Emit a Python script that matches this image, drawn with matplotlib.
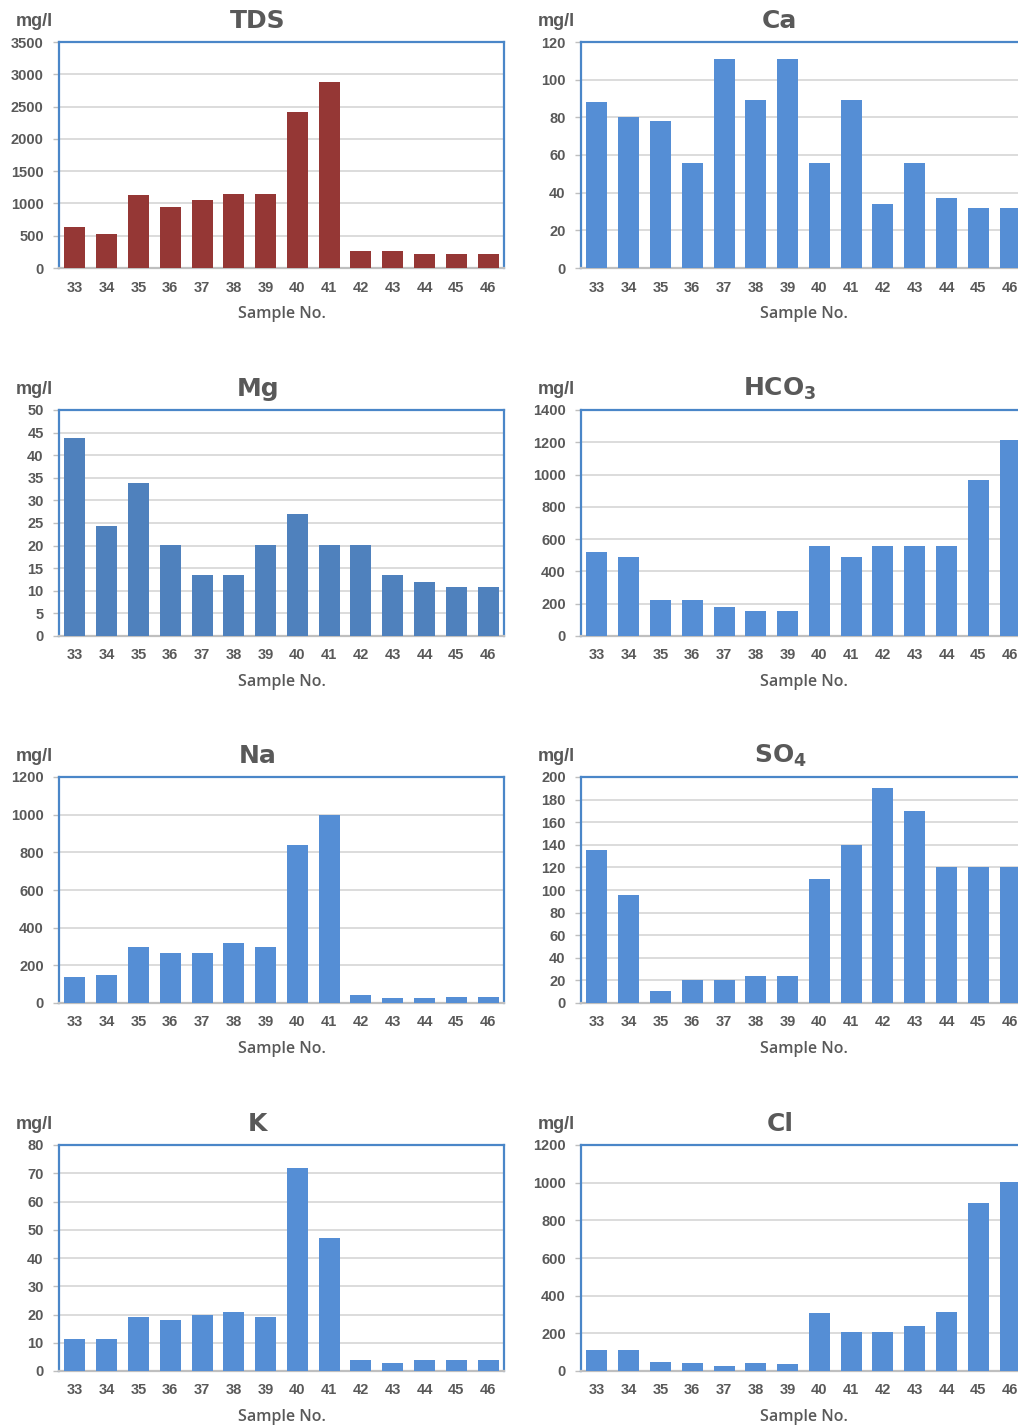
import numpy as np
import matplotlib
matplotlib.use("Agg")
import matplotlib.pyplot as plt

samples = ["33", "34", "35", "36", "37", "38", "39", "40", "41", "42", "43", "44", "45", "46"]

tds = [630, 530, 1130, 940, 1060, 1150, 1150, 2420, 2880, 260, 260, 220, 220, 220]
ca = [88, 80, 78, 56, 111, 89, 111, 56, 89, 34, 56, 37, 32, 32]
mg = [43.7, 24.3, 33.8, 20.2, 13.5, 13.5, 20.2, 27, 20.2, 20.2, 13.5, 11.9, 10.9, 10.9]
hco3 = [520, 488, 220, 220, 178, 156, 156, 555, 488, 555, 555, 555, 965, 1215]
na = [140, 150, 300, 265, 265, 320, 295, 840, 1000, 40, 25, 25, 30, 30]
so4 = [135, 96, 11, 20, 20, 24, 24, 110, 140, 190, 170, 120, 120, 120]
k = [11.5, 11.5, 19, 18, 20, 21, 19, 72, 47, 4, 3, 4, 4, 4]
cl = [110, 110, 48, 42, 28, 42, 38, 310, 205, 205, 240, 315, 890, 1005]

RED = "#953735"
BLUE = "#558ED5"
MGBLUE = "#4F81BD"
TXT = "#595959"
FRAME = "#4A86C8"

# (title, values, ymax, step, colour, column, row)
panels = [
    ("TDS", tds, 3500, 500, RED, 0, 0),
    ("Ca", ca, 120, 20, BLUE, 1, 0),
    ("Mg", mg, 50, 5, MGBLUE, 0, 1),
    (r"$\mathbf{HCO_3}$", hco3, 1400, 200, BLUE, 1, 1),
    ("Na", na, 1200, 200, BLUE, 0, 2),
    (r"$\mathbf{SO_4}$", so4, 200, 20, BLUE, 1, 2),
    ("K", k, 80, 10, BLUE, 0, 3),
    ("Cl", cl, 1200, 200, BLUE, 1, 3),
]

W, H = 1018, 1427
fig = plt.figure(figsize=(W / 100, H / 100), dpi=100)

col_left = [59, 581]
ax_w = 445
ax_h = 226
row_bottom = [268, 636, 1003, 1371]

x = np.arange(len(samples))

for title, vals, ymax, step, color, col, row in panels:
    left = col_left[col] / W
    bottom = 1 - row_bottom[row] / H
    ax = fig.add_axes([left, bottom, ax_w / W, ax_h / H])
    ax.bar(x, vals, width=0.66, color=color, zorder=3)
    ax.set_xlim(-0.5, len(samples) - 0.5)
    ax.set_ylim(0, ymax)
    ax.set_yticks(np.arange(0, ymax + step / 2, step))
    ax.yaxis.grid(True, color="#D9D9D9", lw=1.3, zorder=0)
    ax.set_axisbelow(True)
    ax.set_xticks(x)
    ax.set_xticklabels(samples)
    for s in ["left", "top", "right"]:
        ax.spines[s].set_color(FRAME)
        ax.spines[s].set_linewidth(1.6)
    ax.spines["bottom"].set_color("#BFBFBF")
    ax.spines["bottom"].set_linewidth(1.6)
    ax.tick_params(axis="x", length=0, pad=9, labelsize=10.5, labelcolor=TXT)
    ax.tick_params(axis="y", length=4, width=1, color="#BFBFBF", pad=7,
                   labelsize=10.5, labelcolor=TXT)
    for lab in ax.get_xticklabels() + ax.get_yticklabels():
        lab.set_fontfamily("Liberation Sans")
        lab.set_fontweight("bold")

    ax.text(0.447, 1.095, title, transform=ax.transAxes, ha="center", va="center",
            fontsize=18, fontweight="bold", color=TXT, family="DejaVu Sans")
    ax.text(-0.014, 1.09, "mg/l", transform=ax.transAxes, ha="right", va="center",
            fontsize=13, fontweight="bold", color=TXT, family="Liberation Sans")
    ax.text(0.5, -0.205, "Sample No.", transform=ax.transAxes, ha="center", va="center",
            fontsize=11.5, fontweight="semibold", color=TXT, family="Open Sans")

fig.savefig("out.png", dpi=100)
